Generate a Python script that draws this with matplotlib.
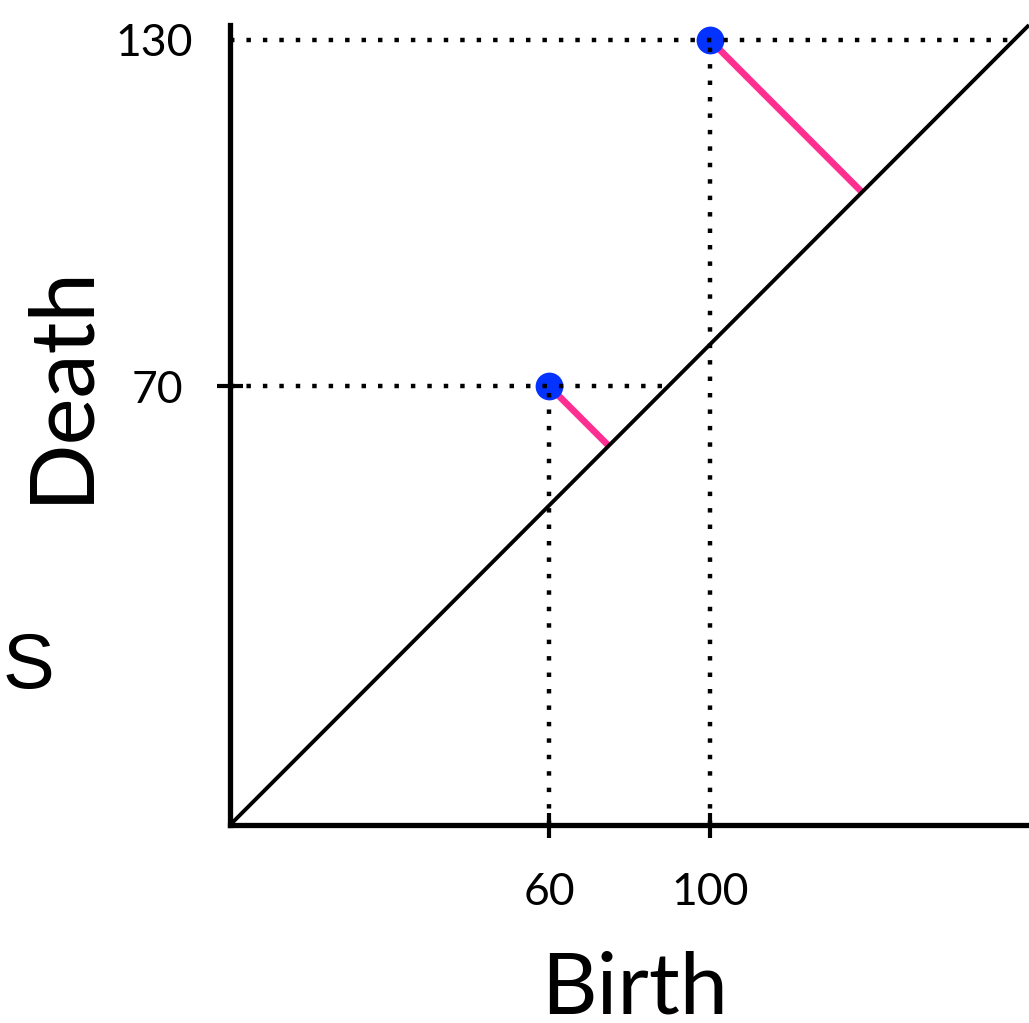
import matplotlib
matplotlib.use("Agg")
import matplotlib.pyplot as plt

# persistence pairs (birth, death)
births = [60, 100]
deaths = [70, 130]

x_ticks = [60, 100]
y_ticks = [70, 130]
x_tick_labels = ["60", "100"]
y_tick_labels = ["70", "130"]

# the picture is a sketch, so the axis range is only fitted to where the ticks sit
x_range = (-19.25, 179.25)
y_range = (-6.1, 132.6)

BLUE = "#0433FF"
PINK = "#FF2F92"
FONT = ["Lato", "DejaVu Sans"]

fig = plt.figure(figsize=(10.29, 10.23), dpi=100)
ax = fig.add_axes([230 / 1029, 198 / 1023, 799 / 1029, 800 / 1023])
ax.set_xlim(*x_range)
ax.set_ylim(*y_range)

for side in ["top", "right"]:
    ax.spines[side].set_visible(False)
for side in ["left", "bottom"]:
    ax.spines[side].set_linewidth(3.8)

# diagonal birth = death
ax.plot([0, 1], [0, 1], transform=ax.transAxes, color="black", lw=2.8,
        solid_capstyle="butt", zorder=3, clip_on=False)

dots = dict(color="black", lw=3.2, linestyle=(0, (1, 2.7)),
            dash_capstyle="butt", zorder=5, clip_on=False)

for b, d in zip(births, deaths):
    px, py = ax.transLimits.transform((b, d))
    foot = (px + py) / 2
    # dotted guides to the axes and to the diagonal
    ax.plot([0, py], [py, py], transform=ax.transAxes, **dots)
    ax.plot([b, b], [y_range[0], d], **dots)
    # distance to the diagonal
    ax.plot([px, foot], [py, foot], transform=ax.transAxes, color=PINK,
            lw=4.8, solid_capstyle="butt", zorder=2)

ax.plot(births, deaths, "o", color=BLUE, markersize=20, markeredgewidth=0,
        zorder=4, clip_on=False)

ax.set_xticks(x_ticks)
ax.set_xticklabels(x_tick_labels, fontsize=32, family=FONT)
ax.set_yticks(y_ticks)
ax.set_yticklabels(y_tick_labels, fontsize=32, family=FONT)
ax.tick_params(axis="x", direction="inout", length=18, width=3.0, pad=25)
ax.tick_params(axis="y", direction="inout", length=19, width=3.0)
ytk = ax.yaxis.get_major_ticks()
ytk[0].set_pad(24)
ytk[1].set_pad(17)
ytk[1].tick1line.set_visible(False)

fig.text(0.084, 0.6256, "Death", rotation=90, rotation_mode="anchor",
         ha="center", va="baseline", fontsize=64, family=FONT)
fig.text(0.617, 0.009, "Birth", ha="center", va="baseline",
         fontsize=62, family=FONT)
fig.text(3 / 1029, 0.3275, "S", ha="left", va="baseline", fontsize=56,
         family=["Liberation Sans", "DejaVu Sans"])

fig.savefig("out.png", dpi=100)
